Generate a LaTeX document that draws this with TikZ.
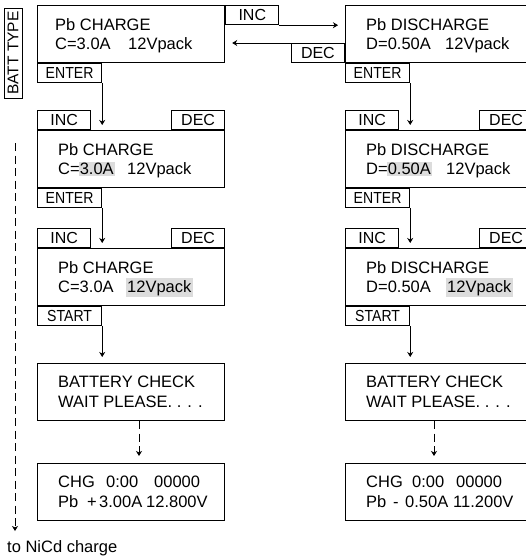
\documentclass[tikz,border=0pt]{standalone}
\usepackage{fontspec}
\usepackage{graphicx}
\setmainfont{Liberation Sans}
\usetikzlibrary{arrows.meta,calc}
\definecolor{hlgray}{HTML}{DCDCDC}
\newcommand\mainf{\fontsize{16.5}{20}\selectfont}
\newcommand\tabf{\fontsize{16}{19}\selectfont}
\newcommand\hlA[1]{{\setlength\fboxsep{1pt}\kern-1pt\colorbox{hlgray}{#1}\kern-1pt}}
\newcommand\hlB[1]{{\setlength\fboxsep{1.5pt}\kern-1.5pt\colorbox{hlgray}{\rule{0pt}{13pt}#1}\kern-1.5pt}}
\newcommand\nar[1]{\scalebox{0.88}[1]{#1}}
\begin{document}
\begin{tikzpicture}[x=1pt,y=-1pt,
  scr/.style={draw, line width=1.2pt, minimum width=187pt, minimum height=57pt, anchor=north west, inner sep=0pt},
  tabL/.style={draw, line width=1.2pt, minimum width=64pt, minimum height=19pt, anchor=north west, inner sep=0pt, font=\tabf},
  tabS/.style={draw, line width=1.2pt, minimum width=53pt, minimum height=19pt, anchor=north west, inner sep=0pt, font=\tabf},
  ln/.style={anchor=base west, inner sep=0pt, font=\mainf},
  arr/.style={line width=0.9pt, -{Stealth[length=5pt,width=6pt,inset=1.5pt]}},
  dsh/.style={arr, dash pattern=on 8pt off 4.5pt}]
\clip (0,0) rectangle (526,557);

% BATT TYPE
\node[draw, line width=1pt, rotate=90, font=\fontsize{15.5}{18}\selectfont, minimum width=90pt, minimum height=18pt, inner sep=0pt] (bt) at (13,53) {BATT TYPE};

% ---------- left column ----------
\node[scr] (c1) at (37,5) {};
\node[ln] (c1a) at ($(c1.north west)+(18,25)$) {Pb CHARGE};
\node[ln] (c1b) at ($(c1.north west)+(18,44)$) {\makebox[73pt][l]{C=3.0A}12Vpack};
\node[tabL] (e1) at (c1.south west) {\nar{ENTER}};
\node[tabS] (inc1) at (c1.north east) {INC};

\node[scr] (c2) at (37,130) {};
\node[tabS, anchor=south west] (inc2) at (c2.north west) {INC};
\node[tabS, anchor=south east] (dec2) at (c2.north east) {DEC};
\node[ln] (c2a) at ($(c2.north west)+(21,25)$) {Pb CHARGE};
\node[ln] (c2b) at ($(c2.north west)+(21,44.5)$) {\makebox[69pt][l]{C=\hlA{3.0A}}12Vpack};
\node[tabL] (e2) at (c2.south west) {\nar{ENTER}};

\node[scr] (c3) at (37,248) {};
\node[tabS, anchor=south west] (inc3) at (c3.north west) {INC};
\node[tabS, anchor=south east] (dec3) at (c3.north east) {DEC};
\node[ln] (c3a) at ($(c3.north west)+(21,25)$) {Pb CHARGE};
\node[ln] (c3b) at ($(c3.north west)+(21,44.5)$) {\makebox[69pt][l]{C=3.0A}\hlB{12Vpack}};
\node[tabL] (s3) at (c3.south west) {\nar{START}};

\node[scr] (c4) at (37,363) {};
\node[ln] (c4a) at ($(c4.north west)+(21,24.5)$) {BATTERY CHECK};
\node[ln] (c4b) at ($(c4.north west)+(21,44.5)$) {WAIT PLEASE. . . .};

\node[scr] (c5) at (37,463) {};
\node[ln] (c5a) at ($(c5.north west)+(21,24.5)$) {\makebox[48pt][l]{CHG}\makebox[48pt][l]{0:00}00000};
\node[ln] (c5b) at ($(c5.north west)+(21,44.5)$) {\makebox[29pt][l]{Pb}\makebox[12pt][l]{+}\makebox[47pt][l]{3.00A}12.800V};

% ---------- right column ----------
\node[scr] (d1) at (345,5) {};
\node[ln] (d1a) at ($(d1.north west)+(21,25)$) {Pb DISCHARGE};
\node[ln] (d1b) at ($(d1.north west)+(21,44)$) {\makebox[79pt][l]{D=0.50A}12Vpack};
\node[tabL] (f1) at (d1.south west) {\nar{ENTER}};
\node[tabS, anchor=south east] (dec1) at (d1.south west) {DEC};

\node[scr] (d2) at (345,130) {};
\node[tabS, anchor=south west] (inc4) at (d2.north west) {INC};
\node[tabS, anchor=south east] (dec4) at (d2.north east) {DEC};
\node[ln] (d2a) at ($(d2.north west)+(21,25)$) {Pb DISCHARGE};
\node[ln] (d2b) at ($(d2.north west)+(21,44.5)$) {\makebox[80pt][l]{D=\hlA{0.50A}}12Vpack};
\node[tabL] (f2) at (d2.south west) {\nar{ENTER}};

\node[scr] (d3) at (345,248) {};
\node[tabS, anchor=south west] (inc5) at (d3.north west) {INC};
\node[tabS, anchor=south east] (dec5) at (d3.north east) {DEC};
\node[ln] (d3a) at ($(d3.north west)+(21,25)$) {Pb DISCHARGE};
\node[ln] (d3b) at ($(d3.north west)+(21,44.5)$) {\makebox[81pt][l]{D=0.50A}\hlB{12Vpack}};
\node[tabL] (t3) at (d3.south west) {\nar{START}};

\node[scr] (d4) at (345,363) {};
\node[ln] (d4a) at ($(d4.north west)+(21,24.5)$) {BATTERY CHECK};
\node[ln] (d4b) at ($(d4.north west)+(21,44.5)$) {WAIT PLEASE. . . .};

\node[scr] (d5) at (345,463) {};
\node[ln] (d5a) at ($(d5.north west)+(21,24.5)$) {\makebox[46pt][l]{CHG}\makebox[44pt][l]{0:00}00000};
\node[ln] (d5b) at ($(d5.north west)+(21,44.5)$) {\makebox[27pt][l]{Pb}\makebox[12pt][l]{-}\makebox[48pt][l]{0.50A}11.200V};

% ---------- connectors ----------
\draw[arr] (inc1.south east) -- ($(d1.west |- inc1.south east)+(-7,0)$);
\draw[arr] (dec1.north west) -- ($(c1.east |- dec1.north west)+(7,0)$);

\draw[arr] (e1.south east) -- ($(e1.south east |- c2.north)+(0,-5)$);
\draw[arr] (e2.south east) -- ($(e2.south east |- c3.north)+(0,-5)$);
\draw[arr] (s3.south east) -- ($(s3.south east |- c4.north)+(0,-6)$);
\draw[dsh] ($(c4.south west)+(102,0)$) -- ($(c5.north west)+(102,-7)$);

\draw[arr] (f1.south east) -- ($(f1.south east |- d2.north)+(0,-5)$);
\draw[arr] (f2.south east) -- ($(f2.south east |- d3.north)+(0,-5)$);
\draw[arr] (t3.south east) -- ($(t3.south east |- d4.north)+(0,-6)$);
\draw[dsh] ($(d4.south west)+(89,0)$) -- ($(d5.north west)+(89,-7)$);

\coordinate (ds) at (15,143);
\coordinate (de) at (15,531);
\draw[dsh] (ds) -- (de);
\node[ln] (nicd) at (7,552) {to NiCd charge};
\end{tikzpicture}
\end{document}
